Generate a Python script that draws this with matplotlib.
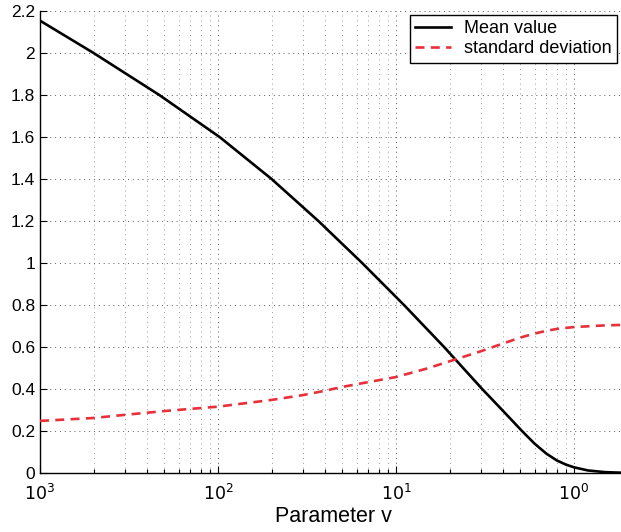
import numpy as np
import matplotlib
matplotlib.use("Agg")
import matplotlib.pyplot as plt
from matplotlib.ticker import FixedLocator, FixedFormatter, LogLocator, NullFormatter

plt.rcParams["font.family"] = ["Liberation Sans", "DejaVu Sans"]

# parameter v (axis runs from 10^3 on the left down to below 10^0)
v_mean = [1000, 500, 213.7, 98.0, 50, 27.3, 15.5, 9.02, 5.37, 3.28, 2.5,
          1.96, 1.667, 1.429, 1.25, 1.111, 1.0, 0.833, 0.667, 0.5]
mean_value = [2.154, 2.0, 1.8, 1.6, 1.4, 1.2, 1.0, 0.8, 0.6, 0.4, 0.295,
              0.2, 0.14, 0.092, 0.06, 0.04, 0.027, 0.012, 0.004, 0.0005]

v_std = [1000, 500, 333.3, 200, 100, 50, 33.33, 25, 20, 14.29, 10, 6.67, 5,
         3.33, 2.5, 2, 1.667, 1.429, 1.25, 1.0, 0.667, 0.5]
std_value = [0.248, 0.262, 0.277, 0.295, 0.316, 0.348, 0.371, 0.392, 0.41,
             0.433, 0.457, 0.498, 0.532, 0.58, 0.617, 0.645, 0.664, 0.677,
             0.686, 0.695, 0.703, 0.706]

x_ticks_v = [1000, 100, 10, 1]
x_tick_labels = ["$10^3$", "$10^2$", "$10^1$", "$10^0$"]
y_ticks = [0, 0.2, 0.4, 0.6, 0.8, 1.0, 1.2, 1.4, 1.6, 1.8, 2.0, 2.2]
y_tick_labels = ["0", "0.2", "0.4", "0.6", "0.8", "1", "1.2", "1.4", "1.6",
                 "1.8", "2", "2.2"]

fig = plt.figure(figsize=(6.21, 5.32), dpi=100)
ax = fig.add_axes([40 / 621, 59 / 532, 587.6 / 621, 462 / 532])

# plot against 1/v on a log axis so v decreases to the right
ax.plot(1 / np.array(v_mean), mean_value, color="black", lw=1.9,
        label="Mean value", zorder=3, solid_joinstyle="round")
ax.plot(1 / np.array(v_std), std_value, color="#e8303a", lw=1.9,
        dashes=(3.4, 2.4), label="standard deviation", zorder=3)

ax.set_xscale("log")
ax.set_xlim(1e-3, 2)
ax.set_ylim(0, 2.2)

ax.xaxis.set_major_locator(FixedLocator([1 / v for v in x_ticks_v]))
ax.xaxis.set_major_formatter(FixedFormatter(x_tick_labels))
ax.xaxis.set_minor_locator(LogLocator(base=10, subs=np.arange(2, 10)))
ax.xaxis.set_minor_formatter(NullFormatter())
ax.set_yticks(y_ticks)
ax.set_yticklabels(y_tick_labels)

ax.tick_params(which="both", direction="in", top=False, right=False,
               labelsize=12.5, width=0.8)
ax.tick_params(which="major", length=5)
ax.tick_params(which="minor", length=3)
ax.tick_params(axis="x", pad=7)

for s in ["top", "right"]:
    ax.spines[s].set_visible(False)
for s in ["left", "bottom"]:
    ax.spines[s].set_linewidth(1.0)

ax.grid(which="major", axis="both", color="0.35", lw=0.7, ls=(0, (1, 4)))
ax.grid(which="minor", axis="x", color="0.6", lw=0.7, ls=(0, (1, 4)))
ax.set_axisbelow(True)

ax.set_xlabel("Parameter v", fontsize=15.5, labelpad=2)

leg = ax.legend(loc="upper right", bbox_to_anchor=(617 / 621, 1 - 15 / 532),
                bbox_transform=fig.transFigure, fontsize=13, fancybox=False,
                framealpha=1, edgecolor="black", handlelength=2.0,
                borderpad=0.3, labelspacing=0.15, handletextpad=0.7,
                borderaxespad=0)
leg.get_frame().set_linewidth(1.0)

fig.savefig("out.png", dpi=100)
